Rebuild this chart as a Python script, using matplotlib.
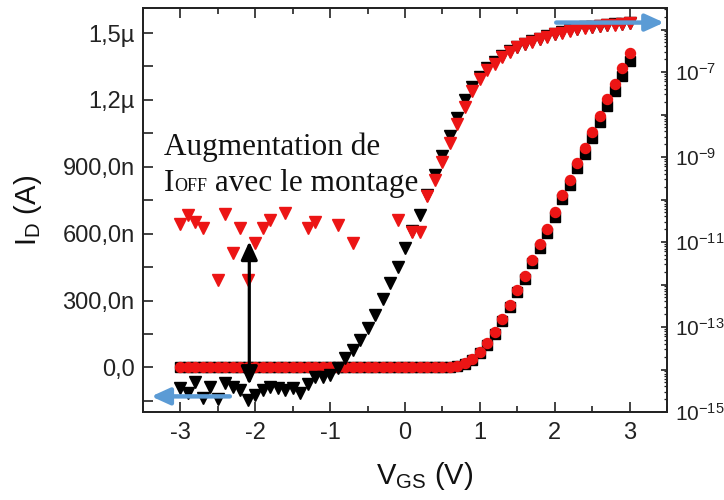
import numpy as np
import matplotlib
matplotlib.use("Agg")
import matplotlib.pyplot as plt
from matplotlib.ticker import FixedLocator, FixedFormatter
from matplotlib.offsetbox import TextArea, HPacker, VPacker, AnnotationBbox

plt.rcParams['font.family'] = 'Liberation Sans'
plt.rcParams['mathtext.fontset'] = 'custom'
plt.rcParams['mathtext.rm'] = 'Liberation Sans'
plt.rcParams['mathtext.it'] = 'Liberation Sans:italic'
plt.rcParams['mathtext.bf'] = 'Liberation Sans:bold'

# gate voltage sweep (V)
vgs = [-3.0, -2.9, -2.8, -2.7, -2.6, -2.5, -2.4, -2.3, -2.2, -2.1,
       -2.0, -1.9, -1.8, -1.7, -1.6, -1.5, -1.4, -1.3, -1.2, -1.1,
       -1.0, -0.9, -0.8, -0.7, -0.6, -0.5, -0.4, -0.3, -0.2, -0.1,
       0.0, 0.1, 0.2, 0.3, 0.4, 0.5, 0.6, 0.7, 0.8, 0.9,
       1.0, 1.1, 1.2, 1.3, 1.4, 1.5, 1.6, 1.7, 1.8, 1.9,
       2.0, 2.1, 2.2, 2.3, 2.4, 2.5, 2.6, 2.7, 2.8, 2.9, 3.0]

# linear scale, left axis (nA)
id_lin_black = [0, 0, 0, 0, 0, 0, 0, 0, 0, 0,
                0, 0, 0, 0, 0, 0, 0, 0, 0, 0,
                0, 0, 0, 0, 0, 0, 0, 0, 0, 0,
                0, 0, 0, 0, 1, 1, 3, 5, 17, 33,
                63, 102, 150, 207, 272, 337, 398, 468, 537, 605,
                677, 754, 820, 893, 958, 1027, 1100, 1172, 1240, 1308, 1376]
id_lin_red = [0, 0, 0, 0, 0, 0, 0, 0, 0, 0,
              0, 0, 0, 0, 0, 0, 0, 0, 0, 0,
              0, 0, 0, 0, 0, 0, 0, 0, 0, 0,
              0, 0, 0, 1, 1, 2, 4, 7, 19, 36,
              68, 109, 157, 217, 281, 348, 411, 483, 553, 621,
              695, 774, 841, 916, 983, 1054, 1128, 1203, 1272, 1342, 1412]

# log scale, right axis (log10 of A)
log_id_black = [-14.44, -14.56, -14.29, -14.68, -14.40, -14.69, -14.32, -14.40, -14.48, -14.72,
                -14.60, -14.48, -14.40, -14.44, -14.48, -14.44, -14.55, -14.34, -14.17, -14.17,
                -14.13, -13.97, -13.74, -13.54, -13.31, -13.03, -12.72, -12.35, -11.97, -11.58,
                -11.15, -10.75, -10.36, -9.90, -9.42, -8.98, -8.51, -8.09, -7.66, -7.36,
                -7.12, -6.91, -6.76, -6.62, -6.51, -6.41, -6.34, -6.28, -6.22, -6.16,
                -6.10, -6.06, -6.02, -5.98, -5.95, -5.93, -5.91, -5.89, -5.88, -5.86, -5.85]
nan = np.nan
log_id_red = [-10.58, -10.36, -10.52, -10.68, nan, -11.89, -10.34, -11.27, -10.68, -11.89,
              -11.03, -10.68, -10.48, nan, -10.32, nan, nan, -10.68, -10.52, nan,
              nan, -10.60, nan, -11.03, nan, nan, nan, nan, nan, -10.48,
              nan, -10.76, -10.76, -9.92, -9.54, -9.11, -8.66, -8.22, -7.82, -7.44,
              -7.17, -6.95, -6.80, -6.64, -6.52, -6.42, -6.35, -6.29, -6.23, -6.17,
              -6.11, -6.07, -6.03, -5.99, -5.96, -5.93, -5.92, -5.90, -5.89, -5.87, -5.85]

x_ticks = [-3, -2, -1, 0, 1, 2, 3]
x_labels = ['-3', '-2', '-1', '0', '1', '2', '3']
left_ticks = [0, 300e-9, 600e-9, 900e-9, 1.2e-6, 1.5e-6]
left_labels = ['0,0', '300,0n', '600,0n', '900,0n', '1,2\u00b5', '1,5\u00b5']
right_exps = [-15, -14, -13, -12, -11, -10, -9, -8, -7, -6]

red = '#ec1515'
blue = '#5b9bd5'

x = np.array(vgs)
fig = plt.figure(figsize=(7.24, 5.0), dpi=100)
ax = fig.add_axes([0.1975, 0.176, 0.7238, 0.8074])

ax.plot(x, np.array(id_lin_black) * 1e-9, 's', color='black', ms=6.5, mec='black', zorder=3)
ax.plot(x, np.array(id_lin_red) * 1e-9, 'o', color=red, ms=7.2, mec=red, zorder=4)
ax.set_xlim(-3.5, 3.5)
ax.set_ylim(-200e-9, 1611e-9)

ax2 = ax.twinx()
ax2.plot(x, 10 ** np.array(log_id_black), 'v', color='black', ms=8, mec='black')
ax2.plot(x, 10 ** np.array(log_id_red), 'v', color=red, ms=8, mec=red)
ax2.set_yscale('log')
ax2.set_ylim(1e-15, 10 ** -5.5)

# ticks
ax.xaxis.set_major_locator(FixedLocator(x_ticks))
ax.xaxis.set_major_formatter(FixedFormatter(x_labels))
ax.xaxis.set_minor_locator(FixedLocator([t + 0.5 for t in [-4] + x_ticks]))
ax.yaxis.set_major_locator(FixedLocator(left_ticks))
ax.yaxis.set_major_formatter(FixedFormatter(left_labels))
ax.yaxis.set_minor_locator(FixedLocator([t - 150e-9 for t in left_ticks]))

ax2.yaxis.set_major_locator(FixedLocator([10.0 ** e for e in right_exps]))
ax2.yaxis.set_major_formatter(FixedFormatter(
    [r'$\mathregular{10^{%d}}$' % e if e % 2 else '' for e in right_exps]))
ax2.yaxis.set_minor_locator(FixedLocator([s * 10.0 ** e for e in right_exps for s in range(2, 10)]))

ax.tick_params(axis='x', which='both', direction='in', top=True, bottom=True,
               labelsize=17, pad=7, width=1.2, colors='#222')
ax.tick_params(axis='x', which='major', length=7)
ax.tick_params(axis='x', which='minor', length=4.5)
ax.tick_params(axis='y', which='both', direction='in', left=True, right=False,
               labelsize=17, pad=6, width=1.2, length=7.5, colors='#222')
ax2.tick_params(axis='y', which='major', direction='in', length=4, width=1.2,
                labelsize=15, pad=6, colors='#222')
ax2.tick_params(axis='y', which='minor', direction='in', length=2.5, width=0.9, colors='#222')
for lab in ax2.get_yticklabels():
    lab.set_verticalalignment('center_baseline')

for a in (ax, ax2):
    for sp in a.spines.values():
        sp.set_linewidth(1.3)
        sp.set_color('#222')

ax.set_xlabel(r'$\mathregular{V_{GS}}$ (V)', fontsize=21, color='#111')
ax.xaxis.set_label_coords(0.537, -0.118)
ax.set_ylabel(r'$\mathregular{I_D}$ (A)', fontsize=21, color='#111')
ax.yaxis.set_label_coords(-0.188, 0.5)

# arrows
ax2.annotate('', xy=(-2.08, 565e-9), xytext=(-2.08, -78e-9),
             xycoords=ax.transData, textcoords=ax.transData,
             arrowprops=dict(arrowstyle='<|-|>,head_length=1.1,head_width=0.5',
                             mutation_scale=10, color='black', lw=2.3,
                             shrinkA=0, shrinkB=0), zorder=10)
ax2.annotate('', xy=(-3.39, -130e-9), xytext=(-2.34, -130e-9),
             xycoords=ax.transData, textcoords=ax.transData,
             arrowprops=dict(arrowstyle='-|>,head_length=1.1,head_width=0.5',
                             mutation_scale=10, color=blue, lw=3.2,
                             shrinkA=0, shrinkB=0), zorder=10)
ax2.annotate('', xy=(3.46, 1547e-9), xytext=(2.02, 1547e-9),
             xycoords=ax.transData, textcoords=ax.transData,
             arrowprops=dict(arrowstyle='-|>,head_length=1.1,head_width=0.5',
                             mutation_scale=10, color=blue, lw=3.2,
                             shrinkA=0, shrinkB=0), zorder=10)

# text block
big = dict(family='Liberation Serif', size=22.5, color='#111')
small = dict(family='Liberation Serif', size=13, color='#111')
line1 = TextArea('Augmentation de', textprops=big)
line2 = HPacker(children=[TextArea('I', textprops=big),
                          TextArea('OFF', textprops=small),
                          TextArea(' avec le montage', textprops=big)],
                align='baseline', pad=0, sep=0)
block = VPacker(children=[line1, line2], align='left', pad=0, sep=5)
ab = AnnotationBbox(block, (0.04, 0.693), xycoords='axes fraction',
                    box_alignment=(0, 1), frameon=False, pad=0)
ax2.add_artist(ab)

fig.savefig('out.png', dpi=100)
